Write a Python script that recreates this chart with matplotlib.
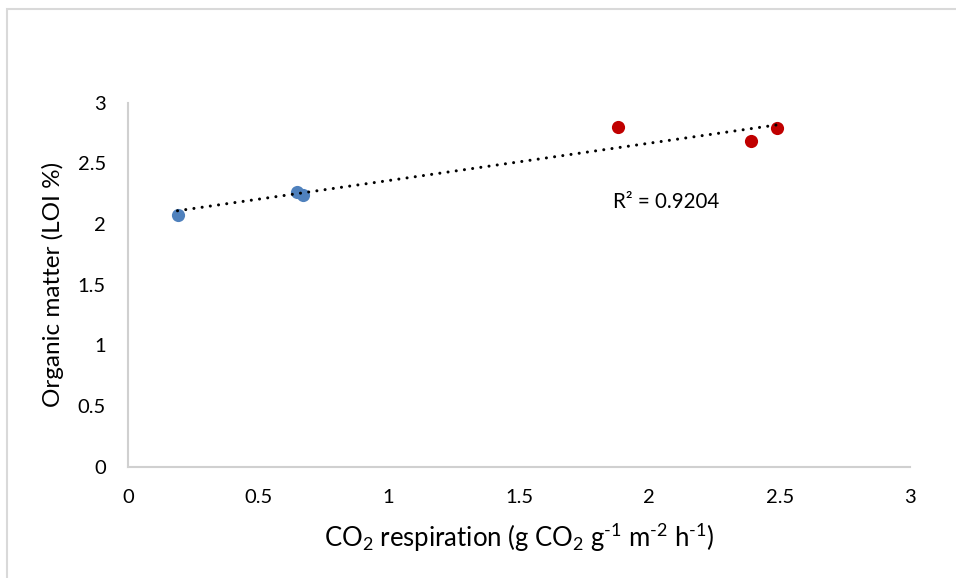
import numpy as np
import matplotlib
matplotlib.use('Agg')
import matplotlib.pyplot as plt
from matplotlib.patches import Rectangle

plt.rcParams['font.family'] = ['Lato', 'DejaVu Sans']
plt.rcParams['mathtext.fontset'] = 'custom'
plt.rcParams['mathtext.rm'] = 'Lato'
plt.rcParams['mathtext.it'] = 'Lato'
plt.rcParams['mathtext.bf'] = 'Lato'

# data
blue_x = [0.19, 0.65, 0.67]
blue_y = [2.07, 2.26, 2.24]
red_x = [1.88, 2.39, 2.49]
red_y = [2.80, 2.68, 2.79]
r2_label = 'R² = 0.9204'

fig = plt.figure(figsize=(9.56, 5.78), dpi=100)
ax = fig.add_axes([128 / 956, 1 - 466.5 / 578, 782 / 956, 364 / 578])

# outer frame like the Excel chart area
fig.patches.append(Rectangle((7 / 956, -0.1), 1.2, 1 - 9 / 578 + 0.1,
                             transform=fig.transFigure, fill=False,
                             edgecolor='#d9d9d9', linewidth=1.5))

ax.scatter(blue_x, blue_y, s=90, color='#4f81bd', zorder=3, linewidths=0)
ax.scatter(red_x, red_y, s=90, color='#c00000', zorder=3, linewidths=0)

# linear trendline over all points
all_x = np.array(blue_x + red_x)
all_y = np.array(blue_y + red_y)
k, b = np.polyfit(all_x, all_y, 1)
tx = np.array([all_x.min(), all_x.max()])
ax.plot(tx, k * tx + b, color='black', linewidth=2.2,
        linestyle=(0, (0.01, 2.7)), dash_capstyle='round', zorder=4)

ax.text(1.86, 2.18, r2_label, fontsize=14.8, va='center', ha='left')

ax.set_xlim(0, 3)
ax.set_ylim(0, 3)
ax.set_xticks([0, 0.5, 1, 1.5, 2, 2.5, 3])
ax.set_xticklabels(['0', '0.5', '1', '1.5', '2', '2.5', '3'])
ax.set_yticks([0, 0.5, 1, 1.5, 2, 2.5, 3])
ax.set_yticklabels(['0', '0.5', '1', '1.5', '2', '2.5', '3'])
ax.tick_params(axis='both', length=0, labelsize=14.5, colors='black')
ax.tick_params(axis='x', pad=16)
ax.tick_params(axis='y', pad=16)

for s in ['top', 'right']:
    ax.spines[s].set_visible(False)
for s in ['left', 'bottom']:
    ax.spines[s].set_color('#d0d0d0')
    ax.spines[s].set_linewidth(1.5)

ax.set_xlabel(r'CO$_2$ respiration (g CO$_2$ g$^{\text{-1}}$ m$^{\text{-2}}$ h$^{\text{-1}}$)',
              fontsize=18.5, labelpad=11)
ax.set_ylabel('Organic matter (LOI %)', fontsize=17.5, labelpad=10)

plt.savefig('out.png', dpi=100)
